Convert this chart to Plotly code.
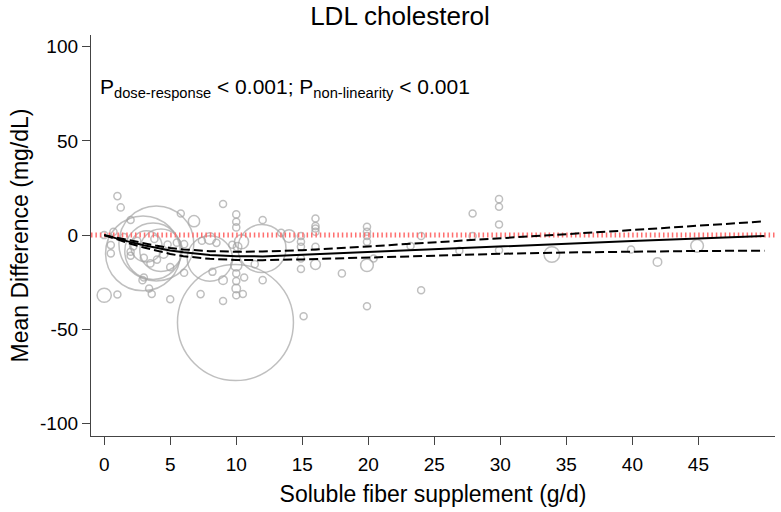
import plotly.graph_objects as go

# ---- data ----
title_text = "LDL cholesterol"
x_title = "Soluble fiber supplement (g/d)"
y_title = "Mean Difference (mg/dL)"
x_ticks = [0, 5, 10, 15, 20, 25, 30, 35, 40, 45]
y_ticks = [-100, -50, 0, 50, 100]
y_tick_labels = ["-100", "-50", "0", "50", "100"]

# fitted dose-response curve and 95% CI
curve_x = [0, 1, 2, 3, 4, 5, 6, 8, 10, 12, 15, 20, 25, 30, 35, 40, 45, 50]
curve_y = [0, -2.0, -3.7, -5.4, -6.9, -8.1, -9.1, -10.5, -11.2, -11.3, -10.4, -8.9, -7.4, -5.9, -4.5, -3.1, -1.8, -0.5]
ci_upper = [0, -1.5, -3.0, -4.4, -5.7, -6.8, -7.6, -8.5, -8.8, -8.7, -8.0, -6.0, -3.9, -1.8, 0.4, 2.7, 5.0, 7.3]
ci_lower = [0, -2.5, -4.6, -6.6, -8.5, -10.0, -11.2, -12.6, -13.2, -13.3, -12.9, -11.8, -10.8, -9.9, -9.2, -8.7, -8.4, -8.3]

# individual study estimates (dose, mean difference, relative weight %)
study_dose = [0.0, 1.0, 1.0, 1.25, 2.0, 0.7, 0.5, 0.5, 0.0, 2.9, 3.0, 3.4, 3.6, 5.0,
              2.94, 3.95, 3.7, 4.3, 3.2, 2.0, 2.5, 3.0, 3.5, 4.0, 4.5, 2.2, 3.8, 1.5, 4.8, 5.5, 2.0, 5.0,
              5.8, 6.8, 6.05, 6.05, 7.4, 8.0, 8.5, 8.0, 9.0, 10.0, 10.0, 10.0, 10.4, 10.1, 9.7,
              10.0, 10.0, 10.0, 10.0, 10.0, 10.5, 10.6, 9.0, 9.0, 7.3, 9.94, 11.95, 12.0, 12.0,
              11.4, 8.2, 13.4, 14.0, 14.9, 14.9, 14.9, 14.9, 14.9, 15.1, 16.0, 16.0, 16.0, 16.0,
              16.0, 16.0, 18.0, 19.9, 19.9, 19.9, 19.9, 19.9, 20.4, 19.9, 23.2, 24.0, 24.0, 26.9,
              27.9, 27.9, 29.9, 29.9, 29.9, 29.9, 33.9, 39.9, 41.9, 44.9]
study_md = [-31.9, -31.5, 20.7, 14.7, 8.0, 1.8, -5.3, -9.7, 0.0, -23.9, -22.5, -28.3, -31.3, -34.0,
            -9.7, -4.4, -8.5, -8.0, -6.0, -8.8, -3.0, -12.0, -15.0, -13.0, -10.0, -6.0, -2.0, -1.0, -5.0, -4.0, -11.0, -17.0,
            11.5, 7.4, -4.8, -20.0, -3.0, -1.8, -4.1, -12.4, 16.5, 11.0, 7.1, 4.1, -3.5, -6.2, -5.1,
            -16.0, -20.3, -24.4, -28.3, -31.9, -31.3, -22.5, -23.9, -34.9, -31.3, -46.4, -7.1, 8.0, -23.9,
            -15.4, -19.5, 1.2, -0.5, -0.5, -3.5, -6.2, -12.4, -18.0, -43.0, 8.8, 4.8, 3.5, 1.8,
            -6.2, -15.6, -20.3, 4.4, 1.8, -0.5, -3.5, -16.0, -12.4, -37.7, -5.8, -0.5, -29.2, -8.3,
            11.5, -0.5, 19.1, 15.0, 5.7, -8.0, -10.3, -7.6, -14.2, -5.7]
study_weight = [0.119, 0.019, 0.030, 0.030, 0.019, 0.030, 0.030, 0.030, 0.019, 0.030, 0.030, 0.019, 0.019, 0.019,
                3.34, 3.34, 1.90, 1.07, 0.58, 0.030, 0.030, 0.030, 0.030, 0.030, 0.043, 0.030, 0.030, 0.030, 0.030, 0.030, 0.019, 0.030,
                0.019, 0.076, 0.030, 0.030, 0.030, 0.076, 0.030, 1.22, 0.019, 0.030, 0.030, 0.030, 0.119, 0.043, 0.030,
                0.076, 0.030, 0.030, 0.043, 0.030, 0.019, 0.019, 0.043, 0.019, 0.030, 8.00, 1.37, 0.030, 0.030,
                0.030, 0.019, 0.030, 0.096, 0.030, 0.030, 0.030, 0.019, 0.019, 0.019, 0.019, 0.030, 0.030, 0.030,
                0.030, 0.058, 0.030, 0.030, 0.030, 0.030, 0.030, 0.096, 0.019, 0.019, 0.019, 0.030, 0.019, 0.019,
                0.019, 0.030, 0.030, 0.019, 0.019, 0.030, 0.144, 0.030, 0.043, 0.096]

annotation_text = "P<sub>dose-response</sub> < 0.001; P<sub>non-linearity</sub> < 0.001"
x_range = [-1.0, 50.8]
y_range = [-106.6, 106.2]

FONT = "Liberation Sans, Arial, sans-serif"
GRAY = "#a4a4a4"

W, H = 781, 512
ML, MR, MT, MB = 91, 6, 35, 76

fig = go.Figure()

fig.add_trace(go.Scatter(
    x=study_dose, y=study_md, mode="markers",
    marker=dict(size=study_weight, sizemode="area", sizeref=8.0 / 82 ** 2, sizemin=3.5,
                symbol="circle-open", color=GRAY, line=dict(width=1.5, color=GRAY)),
    hoverinfo="skip", showlegend=False))

# reference line at zero
fig.add_trace(go.Scatter(
    x=x_range, y=[0, 0], mode="lines",
    line=dict(color="#ff6f6f", width=5, dash="1.5px,2.9px"),
    hoverinfo="skip", showlegend=False))

for yy, dash in [(ci_upper, "9px,4px"), (ci_lower, "9px,4px"), (curve_y, "solid")]:
    fig.add_trace(go.Scatter(
        x=curve_x, y=yy, mode="lines", line=dict(color="black", width=2, dash=dash),
        hoverinfo="skip", showlegend=False))

fig.add_annotation(x=-0.5, y=78, xref="x", yref="y", text=annotation_text, showarrow=False,
                   xanchor="left", yanchor="middle", font=dict(family=FONT, size=21, color="black"))

fig.update_layout(
    width=W, height=H,
    margin=dict(l=ML, r=MR, t=MT, b=MB),
    paper_bgcolor="white", plot_bgcolor="white",
    font=dict(family=FONT, color="black"),
    title=dict(text=title_text, x=400 / W, xanchor="center", y=1 - 16 / H, yanchor="middle",
               font=dict(family=FONT, size=26, color="black")),
    xaxis=dict(range=x_range, tickvals=x_ticks, showgrid=False, zeroline=False, automargin=False,
               showline=True, linecolor="#444444", linewidth=1.3,
               ticks="outside", ticklen=8, tickwidth=1.3, tickcolor="#444444",
               tickfont=dict(size=19, color="black"), ticklabelstandoff=3,
               title=dict(text=x_title, font=dict(size=23, color="black"), standoff=11)),
    yaxis=dict(range=y_range, tickvals=y_ticks, ticktext=y_tick_labels,
               showgrid=False, zeroline=False, automargin=False,
               showline=True, linecolor="#444444", linewidth=1.3,
               ticks="outside", ticklen=8, tickwidth=1.3, tickcolor="#444444",
               tickfont=dict(size=19, color="black"),
               title=dict(text=y_title, font=dict(size=23, color="black"), standoff=4)),
)

# remove the browser's default 8px body margin so the figure fills the window exactly
fig.write_html("out.html", config={"displayModeBar": False},
               post_script="document.body.style.margin='0';document.body.style.overflow='hidden';")
